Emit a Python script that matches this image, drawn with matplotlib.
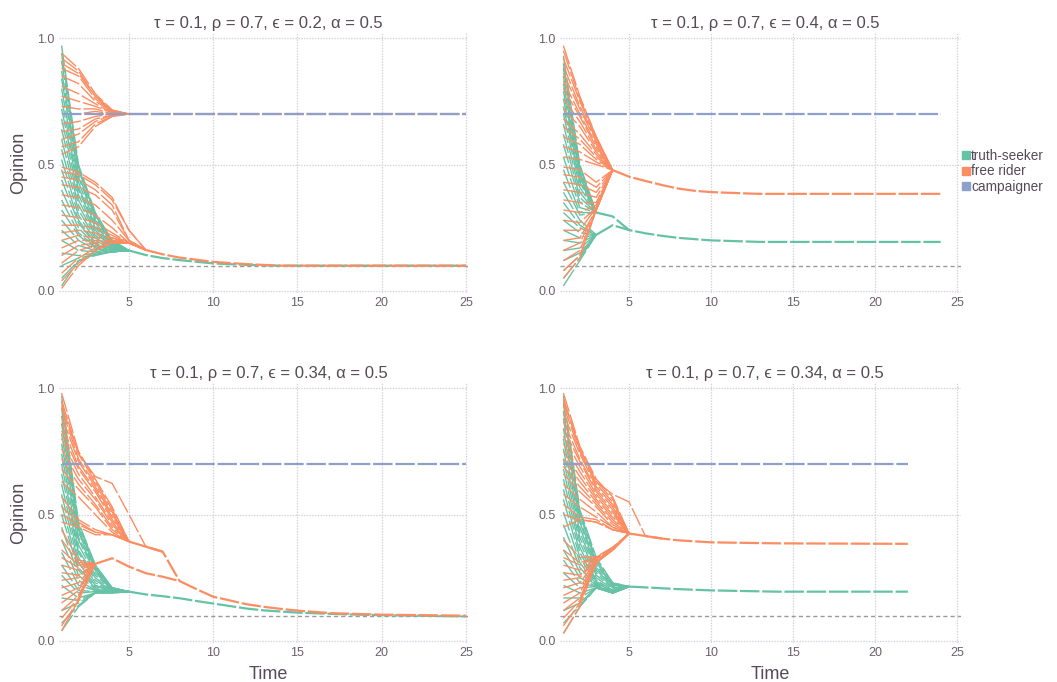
import matplotlib
matplotlib.use("Agg")
import matplotlib.pyplot as plt
from matplotlib.lines import Line2D

# --- model parameters shown in the panel titles ---
TAU = 0.1      # truth
RHO = 0.7      # campaigner position
ALPHA = 0.5
EPSILONS = [0.2, 0.4, 0.34, 0.34]
T_END = [25, 24, 25, 22]

TS_COLOR = '#66c2a5'
FR_COLOR = '#fc8d62'
CAMP_COLOR = '#8da0cb'
TRUTH_COLOR = '#9a9a9a'
GRID_COLOR = '#d0d0e0'
TEXT_COLOR = '#564a55'
TICK_COLOR = '#6c606b'

# Each path holds one agent's opinion at t = 1, 2, ...; once agents merge,
# the cluster continues along the shared tail (times, values).

# ---------------- panel 1: eps = 0.2 ----------------
P1_TS_PATHS = [
    [0.97, 0.50, 0.31, 0.20, 0.16], [0.94, 0.49, 0.30, 0.20, 0.16],
    [0.91, 0.48, 0.30, 0.195, 0.16], [0.87, 0.46, 0.29, 0.19, 0.16],
    [0.84, 0.45, 0.28, 0.19, 0.16], [0.80, 0.43, 0.27, 0.185, 0.16],
    [0.76, 0.41, 0.26, 0.18, 0.16], [0.72, 0.40, 0.25, 0.18, 0.16],
    [0.68, 0.38, 0.24, 0.175, 0.16], [0.64, 0.36, 0.23, 0.175, 0.16],
    [0.60, 0.34, 0.22, 0.17, 0.16], [0.56, 0.32, 0.21, 0.17, 0.16],
    [0.52, 0.30, 0.20, 0.165, 0.16], [0.48, 0.28, 0.19, 0.165, 0.16],
    [0.44, 0.27, 0.185, 0.16, 0.16], [0.40, 0.25, 0.18, 0.16, 0.16],
    [0.36, 0.23, 0.175, 0.16, 0.16], [0.32, 0.22, 0.17, 0.155, 0.16],
    [0.28, 0.20, 0.165, 0.155, 0.16], [0.24, 0.18, 0.16, 0.155, 0.16],
    [0.20, 0.16, 0.155, 0.155, 0.16], [0.15, 0.14, 0.15, 0.155, 0.16],
    [0.10, 0.13, 0.145, 0.155, 0.16], [0.05, 0.12, 0.145, 0.155, 0.16],
    [0.02, 0.12, 0.14, 0.155, 0.16],
]
P1_TS_TAIL_T = [5, 6, 7, 8, 10, 12, 14, 25]
P1_TS_TAIL_V = [0.16, 0.142, 0.13, 0.122, 0.109, 0.103, 0.1, 0.1]

P1_FR_HI_PATHS = [
    [0.94, 0.88, 0.78, 0.715, 0.70], [0.92, 0.87, 0.77, 0.715, 0.70],
    [0.90, 0.86, 0.77, 0.71, 0.70], [0.88, 0.85, 0.76, 0.71, 0.70],
    [0.85, 0.82, 0.75, 0.71, 0.70], [0.81, 0.78, 0.74, 0.705, 0.70],
    [0.77, 0.75, 0.73, 0.705, 0.70], [0.73, 0.72, 0.72, 0.70, 0.70],
    [0.70, 0.70, 0.71, 0.70, 0.70], [0.66, 0.67, 0.69, 0.70, 0.70],
    [0.63, 0.64, 0.68, 0.695, 0.70], [0.60, 0.62, 0.67, 0.695, 0.70],
    [0.57, 0.59, 0.66, 0.69, 0.70], [0.54, 0.57, 0.65, 0.69, 0.70],
]
P1_FR_HI_TAIL_T = [5, 25]
P1_FR_HI_TAIL_V = [0.70, 0.70]

P1_FR_LO_PATHS = [
    [0.49, 0.47, 0.43, 0.37, 0.24, 0.162], [0.47, 0.46, 0.42, 0.36, 0.24, 0.162],
    [0.45, 0.44, 0.40, 0.34, 0.20, 0.162], [0.42, 0.41, 0.38, 0.32, 0.20, 0.162],
    [0.38, 0.37, 0.34, 0.28, 0.20, 0.162], [0.34, 0.33, 0.30, 0.25, 0.19, 0.162],
    [0.30, 0.29, 0.27, 0.23, 0.19, 0.162], [0.26, 0.26, 0.25, 0.22, 0.19, 0.162],
    [0.23, 0.24, 0.23, 0.21, 0.19, 0.162], [0.20, 0.22, 0.21, 0.21, 0.19, 0.162],
    [0.17, 0.20, 0.20, 0.20, 0.19, 0.162], [0.14, 0.18, 0.19, 0.20, 0.19, 0.162],
    [0.11, 0.16, 0.18, 0.20, 0.19, 0.162], [0.07, 0.13, 0.17, 0.19, 0.19, 0.162],
    [0.04, 0.11, 0.16, 0.19, 0.19, 0.162], [0.01, 0.10, 0.16, 0.19, 0.19, 0.162],
]
P1_FR_LO_TAIL_T = [6, 7, 8, 10, 12, 14, 25]
P1_FR_LO_TAIL_V = [0.162, 0.145, 0.132, 0.115, 0.106, 0.1, 0.1]

# ---------------- panel 2: eps = 0.4 ----------------
P2_TS_HI_PATHS = [
    [0.93, 0.50, 0.31], [0.90, 0.49, 0.31], [0.88, 0.48, 0.31],
    [0.85, 0.47, 0.31], [0.82, 0.46, 0.31], [0.79, 0.45, 0.31],
    [0.76, 0.44, 0.31], [0.73, 0.43, 0.31], [0.70, 0.41, 0.31],
    [0.66, 0.39, 0.31], [0.62, 0.37, 0.31], [0.58, 0.35, 0.31],
    [0.53, 0.33, 0.31], [0.48, 0.31, 0.31], [0.43, 0.30, 0.31],
]
P2_TS_HI_TAIL_T = [3, 4, 5, 6, 7, 8, 10, 12, 13, 24]
P2_TS_HI_TAIL_V = [0.31, 0.295, 0.241, 0.228, 0.218, 0.21, 0.2, 0.196, 0.194, 0.194]

P2_TS_LO_PATHS = [
    [0.39, 0.28, 0.222], [0.35, 0.26, 0.222], [0.31, 0.25, 0.222],
    [0.28, 0.23, 0.222], [0.24, 0.21, 0.222], [0.20, 0.19, 0.222],
    [0.16, 0.17, 0.222], [0.12, 0.15, 0.222], [0.08, 0.14, 0.222],
    [0.05, 0.13, 0.222], [0.02, 0.12, 0.222],
]
P2_TS_LO_TAIL_T = [3, 4, 5]
P2_TS_LO_TAIL_V = [0.222, 0.26, 0.241]

P2_FR_PATHS = [
    [0.97, 0.77, 0.61, 0.478], [0.95, 0.76, 0.61, 0.478], [0.92, 0.75, 0.60, 0.478],
    [0.89, 0.73, 0.60, 0.478], [0.86, 0.72, 0.59, 0.478], [0.83, 0.70, 0.58, 0.478],
    [0.80, 0.69, 0.57, 0.478], [0.76, 0.67, 0.56, 0.478], [0.72, 0.65, 0.55, 0.478],
    [0.68, 0.62, 0.54, 0.478], [0.65, 0.60, 0.53, 0.478], [0.61, 0.58, 0.52, 0.478],
    [0.57, 0.55, 0.51, 0.478], [0.53, 0.52, 0.50, 0.478], [0.49, 0.48, 0.43, 0.478],
    [0.46, 0.45, 0.41, 0.478], [0.43, 0.42, 0.39, 0.478], [0.40, 0.39, 0.37, 0.478],
    [0.36, 0.35, 0.35, 0.478], [0.32, 0.31, 0.34, 0.478], [0.28, 0.27, 0.33, 0.478],
    [0.24, 0.24, 0.33, 0.478], [0.20, 0.21, 0.32, 0.478], [0.16, 0.19, 0.32, 0.478],
    [0.12, 0.16, 0.32, 0.478], [0.08, 0.14, 0.32, 0.478], [0.05, 0.13, 0.32, 0.478],
]
P2_FR_TAIL_T = [4, 5, 6, 7, 8, 9, 10, 12, 13, 24]
P2_FR_TAIL_V = [0.478, 0.452, 0.435, 0.419, 0.405, 0.396, 0.391, 0.386, 0.384, 0.384]

# ---------------- panel 3: eps = 0.34 ----------------
P3_TS_PATHS = [
    [0.97, 0.47, 0.30, 0.21, 0.195], [0.95, 0.46, 0.30, 0.21, 0.195],
    [0.92, 0.45, 0.29, 0.21, 0.195], [0.89, 0.44, 0.29, 0.21, 0.195],
    [0.86, 0.43, 0.28, 0.21, 0.195], [0.82, 0.41, 0.28, 0.205, 0.195],
    [0.78, 0.40, 0.27, 0.205, 0.195], [0.74, 0.38, 0.26, 0.205, 0.195],
    [0.70, 0.36, 0.25, 0.20, 0.195], [0.66, 0.35, 0.24, 0.20, 0.195],
    [0.62, 0.33, 0.23, 0.20, 0.195], [0.58, 0.31, 0.22, 0.20, 0.195],
    [0.54, 0.29, 0.215, 0.20, 0.195], [0.50, 0.28, 0.21, 0.20, 0.195],
    [0.45, 0.26, 0.205, 0.195, 0.195], [0.40, 0.24, 0.20, 0.195, 0.195],
    [0.35, 0.22, 0.20, 0.195, 0.195], [0.30, 0.20, 0.195, 0.195, 0.195],
    [0.26, 0.19, 0.195, 0.195, 0.195], [0.22, 0.17, 0.19, 0.195, 0.195],
    [0.17, 0.16, 0.19, 0.195, 0.195], [0.12, 0.15, 0.19, 0.19, 0.195],
    [0.07, 0.14, 0.19, 0.19, 0.195], [0.04, 0.135, 0.19, 0.19, 0.195],
]
P3_TS_TAIL_T = [5, 6, 7, 8, 9, 10, 11, 12, 13, 15, 18, 20, 25]
P3_TS_TAIL_V = [0.195, 0.184, 0.177, 0.169, 0.158, 0.148, 0.138, 0.128, 0.121,
                0.112, 0.105, 0.102, 0.097]

P3_FR_HI_PATHS = [
    [0.98, 0.75, 0.64, 0.53, 0.393], [0.95, 0.74, 0.63, 0.52, 0.393],
    [0.92, 0.72, 0.62, 0.51, 0.393], [0.89, 0.71, 0.61, 0.50, 0.393],
    [0.86, 0.69, 0.60, 0.49, 0.393], [0.83, 0.68, 0.59, 0.48, 0.393],
    [0.80, 0.66, 0.57, 0.47, 0.393], [0.76, 0.64, 0.56, 0.46, 0.393],
    [0.72, 0.62, 0.54, 0.45, 0.393], [0.68, 0.60, 0.53, 0.44, 0.393],
    [0.63, 0.57, 0.50, 0.43, 0.393], [0.57, 0.48, 0.44, 0.42, 0.393],
    [0.53, 0.47, 0.43, 0.42, 0.393], [0.50, 0.46, 0.43, 0.42, 0.393],
    [0.47, 0.45, 0.42, 0.42, 0.393],
]
P3_FR_HI_TAIL_T = [5, 6, 7, 8]
P3_FR_HI_TAIL_V = [0.393, 0.373, 0.353, 0.237]

P3_FR_OUT_PATHS = [[0.93, 0.74, 0.65, 0.623, 0.50, 0.373]]
P3_FR_OUT_TAIL_T = [6, 7]
P3_FR_OUT_TAIL_V = [0.373, 0.353]

P3_FR_LO_PATHS = [
    [0.44, 0.32, 0.305], [0.40, 0.31, 0.305], [0.36, 0.30, 0.305],
    [0.33, 0.29, 0.305], [0.30, 0.28, 0.305], [0.27, 0.26, 0.305],
    [0.24, 0.25, 0.305], [0.21, 0.23, 0.305], [0.18, 0.21, 0.305],
    [0.15, 0.20, 0.305], [0.12, 0.18, 0.305], [0.09, 0.17, 0.305],
    [0.06, 0.16, 0.305], [0.04, 0.16, 0.305],
]
P3_FR_LO_TAIL_T = [3, 4, 5, 6, 7, 8, 9, 10, 11, 12, 13, 14, 15, 17, 20, 25]
P3_FR_LO_TAIL_V = [0.305, 0.327, 0.294, 0.268, 0.254, 0.237, 0.205, 0.175, 0.16,
                   0.145, 0.135, 0.127, 0.12, 0.11, 0.104, 0.1]

# ---------------- panel 4: eps = 0.34 ----------------
P4_TS_PATHS = [
    [0.97, 0.52, 0.33, 0.23, 0.215], [0.94, 0.51, 0.32, 0.23, 0.215],
    [0.91, 0.50, 0.31, 0.225, 0.215], [0.88, 0.48, 0.30, 0.225, 0.215],
    [0.84, 0.47, 0.29, 0.22, 0.215], [0.80, 0.45, 0.28, 0.22, 0.215],
    [0.76, 0.43, 0.27, 0.215, 0.215], [0.72, 0.41, 0.26, 0.21, 0.215],
    [0.68, 0.39, 0.25, 0.205, 0.215], [0.64, 0.37, 0.24, 0.20, 0.215],
    [0.60, 0.35, 0.235, 0.20, 0.215], [0.56, 0.33, 0.23, 0.195, 0.215],
    [0.51, 0.31, 0.225, 0.195, 0.215], [0.46, 0.29, 0.22, 0.19, 0.215],
    [0.41, 0.27, 0.22, 0.19, 0.215], [0.36, 0.25, 0.215, 0.19, 0.215],
    [0.32, 0.23, 0.215, 0.19, 0.215], [0.27, 0.21, 0.215, 0.19, 0.215],
    [0.22, 0.19, 0.21, 0.19, 0.215], [0.17, 0.17, 0.21, 0.19, 0.215],
    [0.12, 0.15, 0.21, 0.19, 0.215], [0.07, 0.14, 0.21, 0.19, 0.215],
    [0.03, 0.135, 0.21, 0.19, 0.215],
]
P4_TS_TAIL_T = [5, 6, 8, 10, 14, 22]
P4_TS_TAIL_V = [0.215, 0.212, 0.205, 0.2, 0.195, 0.195]

P4_FR_PATHS = [
    [0.98, 0.77, 0.64, 0.57, 0.425], [0.96, 0.76, 0.63, 0.56, 0.425],
    [0.93, 0.75, 0.62, 0.55, 0.425], [0.90, 0.74, 0.61, 0.54, 0.425],
    [0.87, 0.72, 0.60, 0.53, 0.425], [0.84, 0.71, 0.59, 0.52, 0.425],
    [0.81, 0.69, 0.58, 0.51, 0.425], [0.78, 0.67, 0.57, 0.50, 0.425],
    [0.75, 0.65, 0.56, 0.49, 0.425], [0.72, 0.63, 0.55, 0.48, 0.425],
    [0.69, 0.61, 0.54, 0.47, 0.425], [0.66, 0.59, 0.53, 0.46, 0.425],
    [0.62, 0.56, 0.51, 0.45, 0.425], [0.58, 0.53, 0.49, 0.45, 0.425],
    [0.54, 0.49, 0.48, 0.44, 0.425], [0.50, 0.48, 0.47, 0.44, 0.425],
    [0.45, 0.48, 0.47, 0.44, 0.425], [0.40, 0.33, 0.333, 0.37, 0.425],
    [0.36, 0.31, 0.33, 0.37, 0.425], [0.33, 0.30, 0.33, 0.365, 0.425],
    [0.30, 0.28, 0.325, 0.365, 0.425], [0.27, 0.26, 0.32, 0.36, 0.425],
    [0.24, 0.25, 0.32, 0.36, 0.425], [0.21, 0.23, 0.315, 0.36, 0.425],
    [0.18, 0.21, 0.31, 0.36, 0.425], [0.15, 0.19, 0.31, 0.36, 0.425],
    [0.12, 0.17, 0.31, 0.36, 0.425], [0.09, 0.16, 0.31, 0.36, 0.425],
    [0.06, 0.15, 0.31, 0.36, 0.425], [0.03, 0.135, 0.31, 0.36, 0.425],
]
P4_FR_TAIL_T = [5, 6, 7, 8, 10, 14, 22]
P4_FR_TAIL_V = [0.425, 0.415, 0.405, 0.398, 0.39, 0.386, 0.384]

P4_FR_OUT_PATHS = [[0.95, 0.76, 0.63, 0.58, 0.55, 0.415]]
P4_FR_OUT_TAIL_T = [6, 7]
P4_FR_OUT_TAIL_V = [0.415, 0.405]

PANELS = [
    dict(ts=[(P1_TS_PATHS, P1_TS_TAIL_T, P1_TS_TAIL_V)],
         fr=[(P1_FR_HI_PATHS, P1_FR_HI_TAIL_T, P1_FR_HI_TAIL_V),
             (P1_FR_LO_PATHS, P1_FR_LO_TAIL_T, P1_FR_LO_TAIL_V)]),
    dict(ts=[(P2_TS_HI_PATHS, P2_TS_HI_TAIL_T, P2_TS_HI_TAIL_V),
             (P2_TS_LO_PATHS, P2_TS_LO_TAIL_T, P2_TS_LO_TAIL_V)],
         fr=[(P2_FR_PATHS, P2_FR_TAIL_T, P2_FR_TAIL_V)]),
    dict(ts=[(P3_TS_PATHS, P3_TS_TAIL_T, P3_TS_TAIL_V)],
         fr=[(P3_FR_HI_PATHS, P3_FR_HI_TAIL_T, P3_FR_HI_TAIL_V),
             (P3_FR_OUT_PATHS, P3_FR_OUT_TAIL_T, P3_FR_OUT_TAIL_V),
             (P3_FR_LO_PATHS, P3_FR_LO_TAIL_T, P3_FR_LO_TAIL_V)]),
    dict(ts=[(P4_TS_PATHS, P4_TS_TAIL_T, P4_TS_TAIL_V)],
         fr=[(P4_FR_PATHS, P4_FR_TAIL_T, P4_FR_TAIL_V),
             (P4_FR_OUT_PATHS, P4_FR_OUT_TAIL_T, P4_FR_OUT_TAIL_V)]),
]

# --- style ---
plt.rcParams['font.family'] = ['Liberation Sans', 'DejaVu Sans']
plt.rcParams['lines.scale_dashes'] = False
DASH = (0, (14, 2.0))
TRUTH_DASH = (0, (3, 2.2))

W, H = 1057, 682
fig = plt.figure(figsize=(W / 100, H / 100), dpi=100)

# axes boxes in pixels: left, top, width, height
BOXES = [(59, 33, 409, 260), (560, 33, 401, 260),
         (59, 383, 409, 260), (560, 383, 401, 260)]
XLIMS = [(0.846, 25.12), (0.793, 25.24), (0.846, 25.12), (0.793, 25.24)]


def draw_group(ax, paths, tail_t, tail_v, color):
    for p in paths:
        ax.plot(range(1, len(p) + 1), p, color=color, lw=1.0, ls=DASH,
                dash_capstyle='butt')
    ax.plot(tail_t, tail_v, color=color, lw=1.6, ls=DASH, dash_capstyle='butt')


for i, panel in enumerate(PANELS):
    l, t, w, h = BOXES[i]
    ax = fig.add_axes([l / W, 1 - (t + h) / H, w / W, h / H])
    ax.set_xlim(*XLIMS[i])
    ax.set_ylim(-0.008, 1.02)
    for s in ax.spines.values():
        s.set_visible(False)
    ax.set_axisbelow(True)
    ax.grid(True, color=GRID_COLOR, lw=0.9, ls=(0, (1, 1)))
    ax.set_xticks([5, 10, 15, 20, 25])
    ax.set_yticks([0.0, 0.5, 1.0])
    ax.set_yticklabels(['0.0', '0.5', '1.0'])
    ax.tick_params(length=0, labelsize=9, labelcolor=TICK_COLOR, pad=3)

    ax.axhline(TAU, color=TRUTH_COLOR, lw=1.0, ls=TRUTH_DASH, zorder=1)

    for grp in panel['ts']:
        draw_group(ax, *grp, TS_COLOR)
    for grp in panel['fr']:
        draw_group(ax, *grp, FR_COLOR)
    ax.plot([1, T_END[i]], [RHO, RHO], color=CAMP_COLOR, lw=1.6, ls=DASH,
            dash_capstyle='butt')

    ax.set_title(f'τ = {TAU}, ρ = {RHO}, ϵ = {EPSILONS[i]}, α = {ALPHA}',
                 fontsize=12, color=TEXT_COLOR, x=0.512, pad=3.5)
    if i % 2 == 0:
        ax.set_ylabel('Opinion', fontsize=13, color=TEXT_COLOR)
        ax.yaxis.set_label_coords(-0.078, 0.5)
    if i >= 2:
        ax.set_xlabel('Time', fontsize=13, color=TEXT_COLOR)
        ax.xaxis.set_label_coords(0.511 if i == 2 else 0.524, -0.088)

handles = [Line2D([], [], ls='none', marker='s', markersize=6, color=c)
           for c in (TS_COLOR, FR_COLOR, CAMP_COLOR)]
leg = fig.legend(handles, ['truth-seeker', 'free rider', 'campaigner'],
                 loc='upper left', bbox_to_anchor=(962 / W, 1 - 149 / H),
                 frameon=False, fontsize=9.8, handlelength=0.55, handletextpad=0.12,
                 labelspacing=0.1, borderpad=0, borderaxespad=0)
for txt in leg.get_texts():
    txt.set_color(TEXT_COLOR)

fig.savefig('out.png', dpi=100)
